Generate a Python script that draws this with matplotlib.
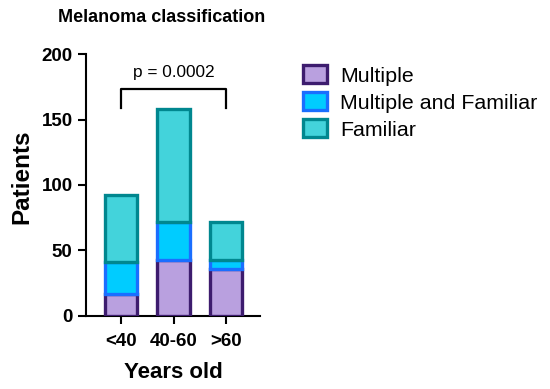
import matplotlib.pyplot as plt
from matplotlib.patches import Patch

plt.rcParams['font.family'] = ['Liberation Sans', 'DejaVu Sans']

# data
age_groups = ['<40', '40-60', '>60']
multiple = [17, 43, 36]
multiple_familiar = [24, 29, 7]
familiar = [51, 86, 29]
series_names = ['Multiple', 'Multiple and Familiar', 'Familiar']
p_label = 'p = 0.0002'

fills = ['#B9A0DF', '#00CCFF', '#43D3DB']
edges = ['#3D1C6E', '#1A6EFF', '#00878F']

fig = plt.figure(figsize=(5.5, 3.89), dpi=100)
ax = fig.add_axes([0.156, 0.188, 0.317, 0.673])

x = list(range(len(age_groups)))
bottom = [0, 0, 0]
for vals, fc, ec in zip([multiple, multiple_familiar, familiar], fills, edges):
    ax.bar(x, vals, bottom=bottom, width=0.62, color=fc, edgecolor=ec,
           linewidth=2.4, zorder=3)
    bottom = [b + v for b, v in zip(bottom, vals)]

# significance bracket
ax.plot([0, 0, 2, 2], [159, 173, 173, 159], color='black', lw=1.6,
        clip_on=False, zorder=4)
ax.text(1, 180, p_label, ha='center', va='bottom', fontsize=12.4)

ax.set_xlim(-0.67, 2.65)
ax.set_ylim(0, 200)
ax.set_yticks([0, 50, 100, 150, 200])
ax.set_xticks(x)
ax.set_xticklabels(age_groups)
for side in ['top', 'right']:
    ax.spines[side].set_visible(False)
for side in ['left', 'bottom']:
    ax.spines[side].set_linewidth(1.5)
ax.tick_params(width=1.5, length=6, labelsize=13.5)
ax.tick_params(axis='x', pad=6)
for lab in ax.get_xticklabels() + ax.get_yticklabels():
    lab.set_fontweight('bold')

ax.set_ylabel('Patients', fontsize=17.5, fontweight='bold')
ax.yaxis.set_label_coords(-0.30, 0.53)
ax.set_xlabel('Years old', fontsize=16, fontweight='bold', labelpad=9)
fig.text(0.105, 0.955, 'Melanoma classification', fontsize=13,
         fontweight='bold', va='center')

handles = [Patch(facecolor=fc, edgecolor=ec, linewidth=2.4)
           for fc, ec in zip(fills, edges)]
fig.legend(handles, series_names, loc='upper left',
           bbox_to_anchor=(0.535, 0.855), frameon=False, fontsize=15.4,
           handlelength=1.15, handleheight=0.95, handletextpad=0.6,
           labelspacing=0.3, borderaxespad=0)

fig.savefig('out.png', dpi=100)
